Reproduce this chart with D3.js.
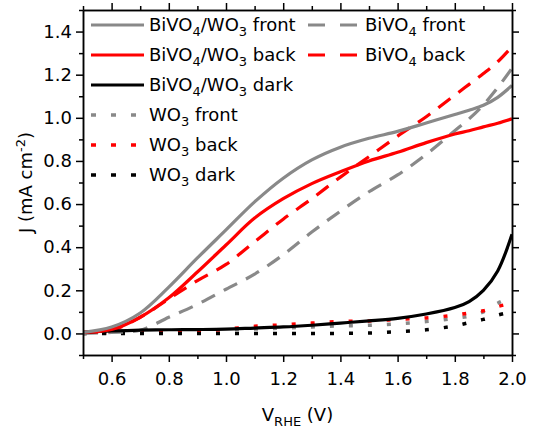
<!DOCTYPE html>
<html>
<head>
<meta charset="utf-8">
<script src="https://cdn.jsdelivr.net/npm/d3@7"></script>
<style>
	body { margin: 0; background: #fff; }
	svg text { font-family: "DejaVu Sans", sans-serif; font-size: 18px; fill: #000; }
</style>
</head>
<body>
<div id="chartBox"></div>
<script>
// potential (V vs RHE)
var voltage = [0.5, 0.6, 0.7, 0.8, 0.9, 1.0, 1.1, 1.2, 1.3, 1.4, 1.5, 1.6, 1.7, 1.8, 1.85, 1.9, 1.95, 2.0];

// current density (mA cm-2)
var bwFront = [0.005, 0.03, 0.095, 0.215, 0.35, 0.48, 0.61, 0.72, 0.805, 0.864, 0.905, 0.937, 0.976, 1.015, 1.035, 1.058, 1.095, 1.15];
var bwBack  = [0.005, 0.018, 0.075, 0.165, 0.285, 0.41, 0.535, 0.625, 0.695, 0.75, 0.80, 0.84, 0.885, 0.925, 0.94, 0.958, 0.975, 0.995];
var bwDark  = [0.005, 0.012, 0.015, 0.017, 0.018, 0.02, 0.025, 0.03, 0.038, 0.048, 0.058, 0.07, 0.09, 0.12, 0.148, 0.2, 0.29, 0.46];
var bFront  = [0.0, 0.005, 0.015, 0.075, 0.135, 0.205, 0.275, 0.365, 0.47, 0.567, 0.657, 0.735, 0.83, 0.94, 0.995, 1.06, 1.14, 1.23];
var bBack   = [0.005, 0.015, 0.075, 0.16, 0.245, 0.32, 0.425, 0.53, 0.625, 0.725, 0.82, 0.915, 1.005, 1.105, 1.155, 1.205, 1.26, 1.33];
var wFront  = [0.0, 0.005, 0.01, 0.012, 0.015, 0.018, 0.02, 0.025, 0.03, 0.035, 0.038, 0.045, 0.055, 0.07, 0.08, 0.1, 0.14, 0.17];
var wBack   = [0.0, 0.003, 0.005, 0.005, 0.01, 0.02, 0.033, 0.04, 0.048, 0.055, 0.058, 0.065, 0.072, 0.085, 0.095, 0.105, 0.125, 0.14];
var wDark   = [0.0, 0.0, 0.0, 0.0, 0.0, 0.0, 0.0, 0.0, 0.0, 0.0, 0.002, 0.008, 0.017, 0.035, 0.05, 0.065, 0.085, 0.1];

var xTicks = [0.6, 0.8, 1.0, 1.2, 1.4, 1.6, 1.8, 2.0];
var yTicks = [0.0, 0.2, 0.4, 0.6, 0.8, 1.0, 1.2, 1.4];

var gray = '#898989', red = '#ff0000', black = '#000000';

// name parts alternate: normal, subscript, normal, ...
var series = [
	{ ys: wFront,  color: gray,  type: 'dot',   name: ['WO', '3', ' front'] },
	{ ys: wBack,   color: red,   type: 'dot',   name: ['WO', '3', ' back'] },
	{ ys: wDark,   color: black, type: 'dot',   name: ['WO', '3', ' dark'] },
	{ ys: bFront,  color: gray,  type: 'dash',  name: ['BiVO', '4', ' front'] },
	{ ys: bBack,   color: red,   type: 'dash',  name: ['BiVO', '4', ' back'] },
	{ ys: bwDark,  color: black, type: 'solid', name: ['BiVO', '4', '/WO', '3', ' dark'] },
	{ ys: bwBack,  color: red,   type: 'solid', name: ['BiVO', '4', '/WO', '3', ' back'] },
	{ ys: bwFront, color: gray,  type: 'solid', name: ['BiVO', '4', '/WO', '3', ' front'] }
];

var W = 533, H = 428;
var pLeft = 83, pRight = 512, pTop = 10, pBottom = 355;

var x = d3.scaleLinear().domain([0.5, 2.0]).range([pLeft, pRight]);
var y = d3.scaleLinear().domain([-0.1, 1.5]).range([pBottom, pTop]);

var svg = d3.select('#chartBox').append('svg')
	.attr('width', W)
	.attr('height', H);

svg.append('rect').attr('width', W).attr('height', H).attr('fill', '#fff');

svg.append('clipPath').attr('id', 'clip')
	.append('rect')
	.attr('x', pLeft).attr('y', pTop)
	.attr('width', pRight - pLeft).attr('height', pBottom - pTop);

function dashFor(type, legend) {
	if (type == 'dash') return legend ? '17,15' : '15,10';
	if (type == 'dot') return legend ? '5,15' : '4,15';
	return null;
}

var line = d3.line()
	.x(function(d) { return x(d[0]); })
	.y(function(d) { return y(d[1]); })
	.curve(d3.curveCatmullRom.alpha(0.5));

var curves = svg.append('g').attr('clip-path', 'url(#clip)');
series.forEach(function(s) {
	curves.append('path')
		.datum(voltage.map(function(v, i) { return [v, s.ys[i]]; }))
		.attr('d', line)
		.attr('fill', 'none')
		.attr('stroke', s.color)
		.attr('stroke-width', s.type == 'dot' ? 3.5 : 3.2)
		.attr('stroke-dasharray', dashFor(s.type, false));
});

// axes, major + minor ticks on all four sides
var minorX = [0.5, 0.7, 0.9, 1.1, 1.3, 1.5, 1.7, 1.9];
var minorY = [-0.1, 0.1, 0.3, 0.5, 0.7, 0.9, 1.1, 1.3, 1.5];

function styleAxis(g) {
	g.selectAll('path, line').attr('stroke', '#000').attr('stroke-width', 1.5);
	g.selectAll('text').style('font-family', '"DejaVu Sans", sans-serif').style('font-size', '18px').attr('fill', '#000');
}

svg.append('g').attr('transform', 'translate(0,' + pBottom + ')')
	.call(d3.axisBottom(x).tickValues(xTicks).tickFormat(d3.format('.1f')).tickSize(7).tickPadding(10).tickSizeOuter(0))
	.call(styleAxis);
svg.append('g').attr('transform', 'translate(0,' + pBottom + ')')
	.call(d3.axisBottom(x).tickValues(minorX).tickFormat('').tickSize(4).tickSizeOuter(0))
	.call(styleAxis);
svg.append('g').attr('transform', 'translate(0,' + pTop + ')')
	.call(d3.axisTop(x).tickValues(xTicks).tickFormat('').tickSize(7).tickSizeOuter(0))
	.call(styleAxis);
svg.append('g').attr('transform', 'translate(0,' + pTop + ')')
	.call(d3.axisTop(x).tickValues(minorX).tickFormat('').tickSize(4).tickSizeOuter(0))
	.call(styleAxis);

svg.append('g').attr('transform', 'translate(' + pLeft + ',0)')
	.call(d3.axisLeft(y).tickValues(yTicks).tickFormat(d3.format('.1f')).tickSize(7).tickPadding(4).tickSizeOuter(0))
	.call(styleAxis);
svg.append('g').attr('transform', 'translate(' + pLeft + ',0)')
	.call(d3.axisLeft(y).tickValues(minorY).tickFormat('').tickSize(4).tickSizeOuter(0))
	.call(styleAxis);
svg.append('g').attr('transform', 'translate(' + pRight + ',0)')
	.call(d3.axisRight(y).tickValues(yTicks).tickFormat('').tickSize(7).tickSizeOuter(0))
	.call(styleAxis);
svg.append('g').attr('transform', 'translate(' + pRight + ',0)')
	.call(d3.axisRight(y).tickValues(minorY).tickFormat('').tickSize(4).tickSizeOuter(0))
	.call(styleAxis);

// axis titles
var xt = svg.append('text')
	.attr('x', (pLeft + pRight) / 2)
	.attr('y', 421)
	.attr('text-anchor', 'middle');
xt.append('tspan').text('V');
xt.append('tspan').attr('dy', 5).style('font-size', '13px').text('RHE');
xt.append('tspan').attr('dy', -5).text(' (V)');

var yt = svg.append('text')
	.attr('transform', 'translate(32,' + ((pTop + pBottom) / 2) + ') rotate(-90)')
	.attr('text-anchor', 'middle');
yt.append('tspan').text('J (mA cm');
yt.append('tspan').attr('dy', -7).style('font-size', '13px').text('-2');
yt.append('tspan').attr('dy', 7).text(')');

// legend
var legendRows = [
	{ s: series[7], col: 0, row: 0 },
	{ s: series[3], col: 1, row: 0 },
	{ s: series[6], col: 0, row: 1 },
	{ s: series[4], col: 1, row: 1 },
	{ s: series[5], col: 0, row: 2 },
	{ s: series[0], col: 0, row: 3 },
	{ s: series[1], col: 0, row: 4 },
	{ s: series[2], col: 0, row: 5 }
];
var cols = [{ x1: 91, x2: 144, tx: 149 }, { x1: 308, x2: 357, tx: 365 }];

legendRows.forEach(function(r) {
	var c = cols[r.col];
	var cy = 25 + r.row * 30;
	svg.append('line')
		.attr('x1', c.x1).attr('x2', c.x2)
		.attr('y1', cy).attr('y2', cy)
		.attr('stroke', r.s.color)
		.attr('stroke-width', r.s.type == 'dot' ? 3.5 : 3.2)
		.attr('stroke-dasharray', dashFor(r.s.type, true));
	var t = svg.append('text')
		.attr('x', c.tx)
		.attr('y', cy + 6);
	r.s.name.forEach(function(part, i) {
		var sp = t.append('tspan').text(part);
		if (i % 2 == 1) {
			sp.attr('dy', 5).style('font-size', '13px');
		} else if (i > 0) {
			sp.attr('dy', -5);
		}
	});
});
</script>
</body>
</html>
